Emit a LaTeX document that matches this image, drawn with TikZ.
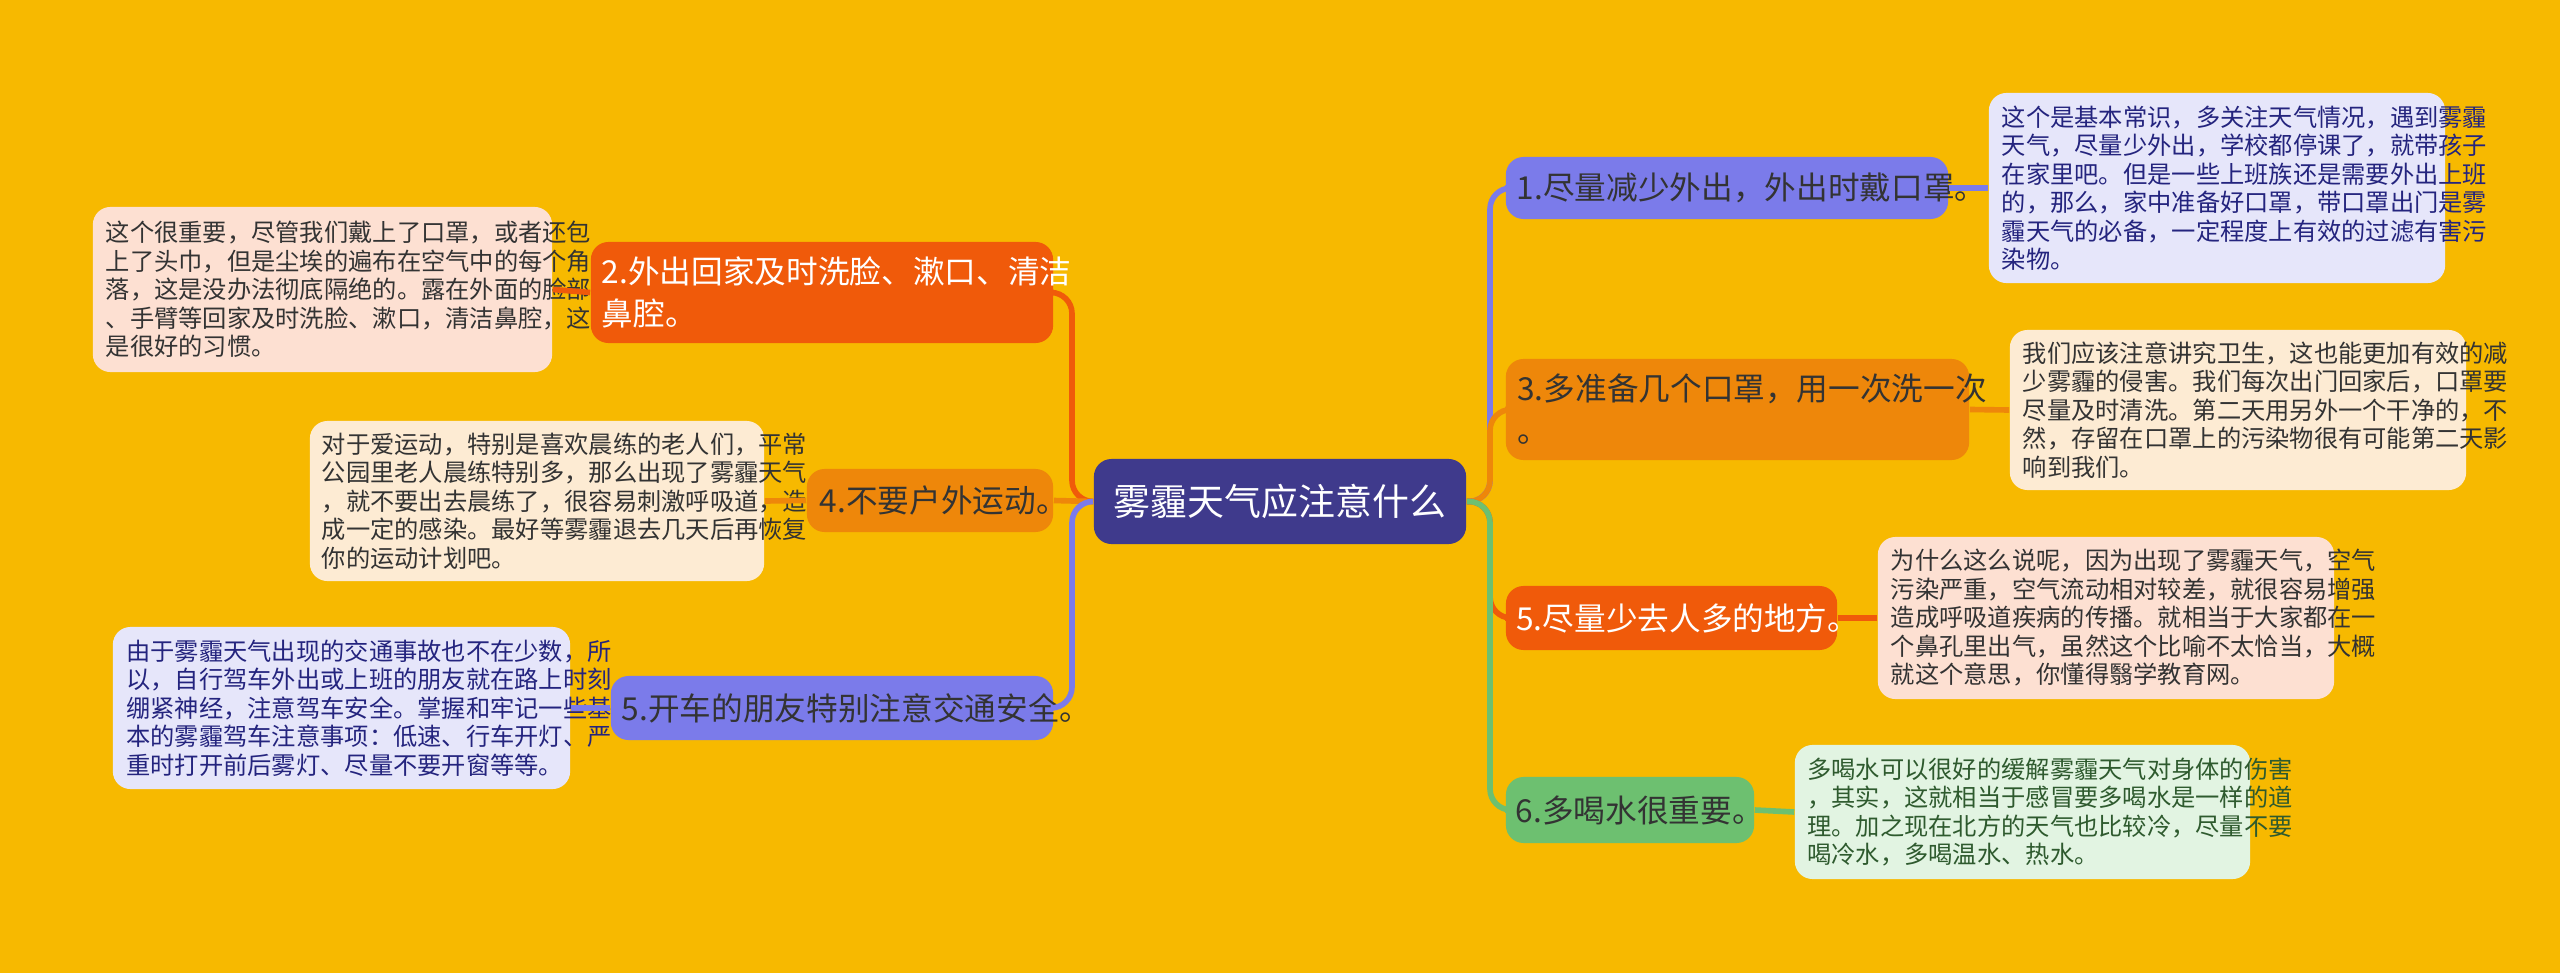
\documentclass[tikz,border=0pt]{standalone}
\usepackage{fontspec}
\setmainfont{Noto Sans CJK SC}
\definecolor{bg}{HTML}{F7B900}
\definecolor{cpur}{HTML}{7B7BEA}
\definecolor{cred}{HTML}{F05A0A}
\definecolor{cora}{HTML}{EE870A}
\definecolor{cgrn}{HTML}{6DC070}
\definecolor{ccen}{HTML}{3F3A8C}
\definecolor{lpur}{HTML}{E6E6FA}
\definecolor{lred}{HTML}{FDE0D2}
\definecolor{lora}{HTML}{FDEBD3}
\definecolor{lgrn}{HTML}{E2F4E2}
\definecolor{tpur}{HTML}{24247E}
\definecolor{tdark}{HTML}{333333}
\definecolor{tgrn}{HTML}{2E5A2E}
\tikzset{
 br/.style={rounded corners=5pt,inner sep=0pt,font=\fontsize{9}{12}\selectfont,align=left},
 det/.style={rounded corners=5pt,inner sep=0pt,font=\fontsize{6.9}{8.1}\selectfont,align=left},
 con/.style={line width=1.6pt,rounded corners=6pt},
}
\begin{document}
\begin{tikzpicture}[x=0.01cm,y=-0.01cm]
\fill[bg] (0,0) rectangle (2560,973);
\useasboundingbox (0,0) rectangle (2560,973);
% center
\node[rounded corners=5pt,fill=ccen,text=white,minimum width=3.72cm,minimum height=0.85cm,font=\fontsize{10.5}{12}\selectfont] (c) at (1280,501.5) {雾霾天气应注意什么};
% right branches
\node[br,fill=cpur,text=tdark,minimum width=4.42cm,minimum height=0.62cm,text width=4.2cm] (r1) at (1727,188) {1.尽量减少外出，外出时戴口罩。};
\node[br,fill=cora,text=tdark,minimum width=4.63cm,minimum height=1.01cm,text width=4.4cm] (r3) at (1737.5,409.5) {3.多准备几个口罩，用一次洗一次\\。};
\node[br,fill=cred,text=white,minimum width=3.31cm,minimum height=0.64cm,text width=3.1cm] (r5) at (1671.5,618) {5.尽量少去人多的地方。};
\node[br,fill=cgrn,text=tdark,minimum width=2.48cm,minimum height=0.66cm,text width=2.28cm] (r6) at (1630,810) {6.多喝水很重要。};
% left branches
\node[br,fill=cred,text=white,minimum width=4.62cm,minimum height=1.01cm,text width=4.4cm] (l2) at (822,292.5) {2.外出回家及时洗脸、漱口、清洁\\鼻腔。};
\node[br,fill=cora,text=tdark,minimum width=2.46cm,minimum height=0.63cm,text width=2.2cm] (l4) at (930,500.5) {4.不要户外运动。};
\node[br,fill=cpur,text=tdark,minimum width=4.42cm,minimum height=0.64cm,text width=4.2cm] (l5) at (832,708) {5.开车的朋友特别注意交通安全。};
% details
\node[det,fill=lpur,text=tpur,minimum width=4.56cm,minimum height=1.90cm,text width=4.3cm] (r1d) at (2217,188) {这个是基本常识，多关注天气情况，遇到雾霾\\天气，尽量少外出，学校都停课了，就带孩子\\在家里吧。但是一些上班族还是需要外出上班\\的，那么，家中准备好口罩，带口罩出门是雾\\霾天气的必备，一定程度上有效的过滤有害污\\染物。};
\node[det,fill=lora,text=tdark,minimum width=4.56cm,minimum height=1.60cm,text width=4.3cm] (r3d) at (2238,410) {我们应该注意讲究卫生，这也能更加有效的减\\少雾霾的侵害。我们每次出门回家后，口罩要\\尽量及时清洗。第二天用另外一个干净的，不\\然，存留在口罩上的污染物很有可能第二天影\\响到我们。};
\node[det,fill=lred,text=tdark,minimum width=4.56cm,minimum height=1.62cm,text width=4.3cm] (r5d) at (2106,618) {为什么这么说呢，因为出现了雾霾天气，空气\\污染严重，空气流动相对较差，就很容易增强\\造成呼吸道疾病的传播。就相当于大家都在一\\个鼻孔里出气，虽然这个比喻不太恰当，大概\\就这个意思，你懂得翳学教育网。};
\node[det,fill=lgrn,text=tgrn,minimum width=4.55cm,minimum height=1.34cm,text width=4.3cm] (r6d) at (2022.5,812) {多喝水可以很好的缓解雾霾天气对身体的伤害\\，其实，这就相当于感冒要多喝水是一样的道\\理。加之现在北方的天气也比较冷，尽量不要\\喝冷水，多喝温水、热水。};
\node[det,fill=lred,text=tdark,minimum width=4.59cm,minimum height=1.65cm,text width=4.33cm] (l2d) at (322.5,289.5) {这个很重要，尽管我们戴上了口罩，或者还包\\上了头巾，但是尘埃的遍布在空气中的每个角\\落，这是没办法彻底隔绝的。露在外面的脸部\\、手臂等回家及时洗脸、漱口，清洁鼻腔，这\\是很好的习惯。};
\node[det,fill=lora,text=tdark,minimum width=4.54cm,minimum height=1.60cm,text width=4.3cm] (l4d) at (537,501) {对于爱运动，特别是喜欢晨练的老人们，平常\\公园里老人晨练特别多，那么出现了雾霾天气\\，就不要出去晨练了，很容易刺激呼吸道，造\\成一定的感染。最好等雾霾退去几天后再恢复\\你的运动计划吧。};
\node[det,fill=lpur,text=tpur,minimum width=4.57cm,minimum height=1.62cm,text width=4.3cm] (l5d) at (341.5,708) {由于雾霾天气出现的交通事故也不在少数，所\\以，自行驾车外出或上班的朋友就在路上时刻\\绷紧神经，注意驾车安全。掌握和牢记一些基\\本的雾霾驾车注意事项：低速、行车开灯、严\\重时打开前后雾灯、尽量不要开窗等等。};
% connectors center -> branches
\draw[con,cpur] (c.east) -- (1490,501.5) |- (r1.west);
\draw[con,cora] (c.east) -- (1490,501.5) |- (r3.west);
\draw[con,cred] (c.east) -- (1490,501.5) |- (r5.west);
\draw[con,cgrn] (c.east) -- (1490,501.5) |- (r6.west);
\draw[con,cred] (c.west) -- (1072,501.5) |- (l2.east);
\draw[con,cora] (c.west) -- (l4.east);
\draw[con,cpur] (c.west) -- (1072,501.5) |- (l5.east);
% branch -> detail
\draw[con,cpur] (r1.east) -- (r1d.west);
\draw[con,cora] (r3.east) -- (r3d.west);
\draw[con,cred] (r5.east) -- (r5d.west);
\draw[con,cgrn] (r6.east) -- (r6d.west);
\draw[con,cred] (l2.west) -- (l2d.east);
\draw[con,cora] (l4.west) -- (l4d.east);
\draw[con,cpur] (l5.west) -- (l5d.east);
\end{tikzpicture}
\end{document}
